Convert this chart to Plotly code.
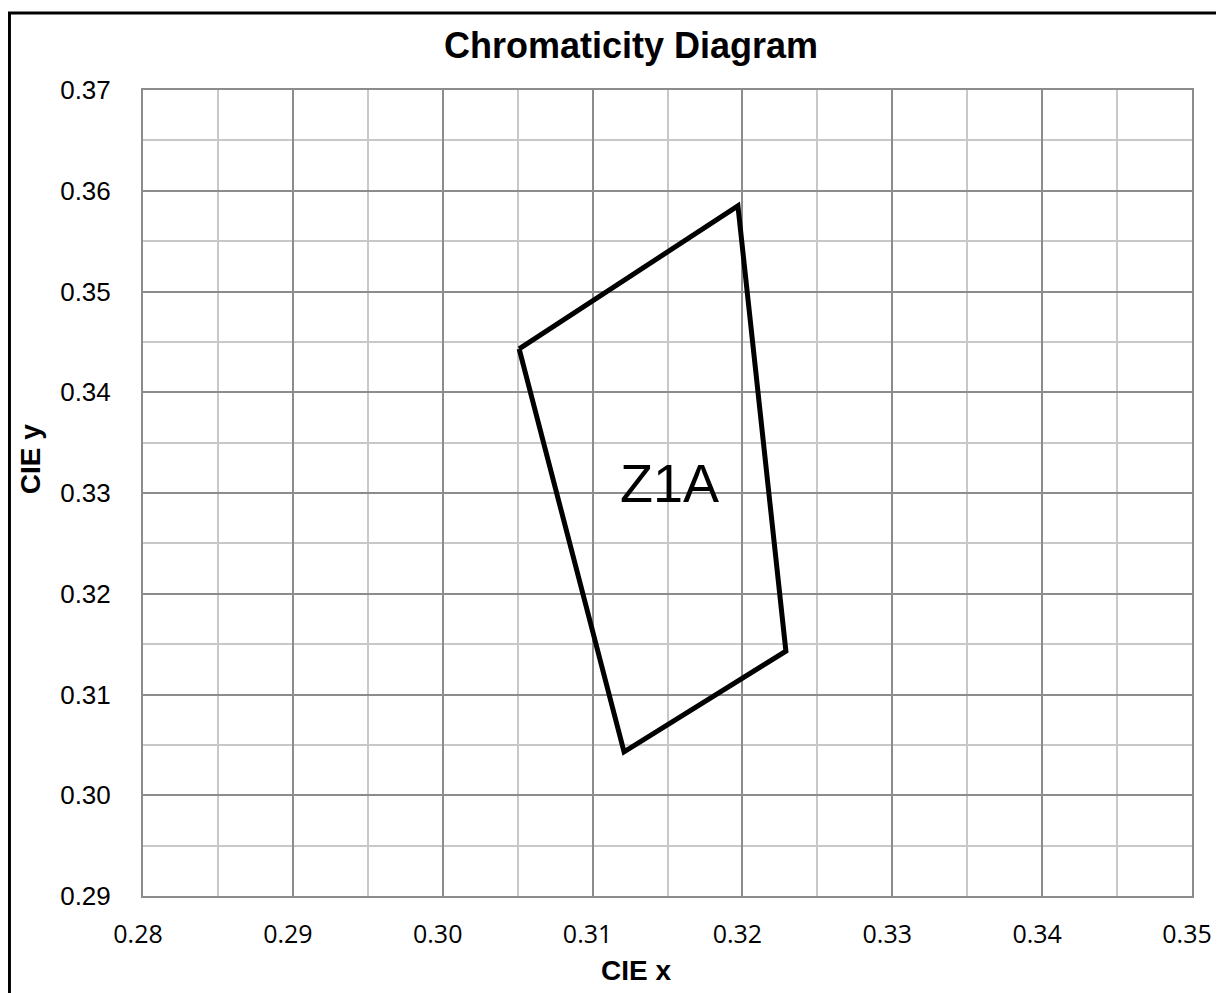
import plotly.graph_objects as go

# Data
zone_name = "Z1A"
corner_x = [0.3051, 0.3197, 0.3229, 0.3121]
corner_y = [0.3443, 0.3585, 0.3143, 0.3043]
label_pos = (0.3151, 0.3310)
x_range = [0.28, 0.35]
y_range = [0.29, 0.37]

fig = go.Figure()
fig.add_trace(go.Scatter(
    x=corner_x + corner_x[:1],
    y=corner_y + corner_y[:1],
    mode="lines",
    line=dict(color="black", width=5),
    showlegend=False,
    hoverinfo="skip",
))

fig.add_annotation(x=label_pos[0], y=label_pos[1], text=zone_name, showarrow=False,
                   font=dict(family="Liberation Sans", size=54, color="black"),
                   xanchor="center", yanchor="middle")

fig.add_annotation(xref="paper", yref="paper", x=0.4652, y=1.0558,
                   text="<b>Chromaticity Diagram</b>", showarrow=False,
                   font=dict(family="Liberation Sans", size=36, color="black"),
                   xanchor="center", yanchor="middle")
fig.add_annotation(xref="paper", yref="paper", x=0.470, y=-0.093,
                   text="<b>CIE x</b>", showarrow=False,
                   font=dict(family="Liberation Sans", size=28, color="black"),
                   xanchor="center", yanchor="middle")
fig.add_annotation(xref="paper", yref="paper", x=-0.1077, y=0.542,
                   text="<b>CIE y</b>", showarrow=False, textangle=-90,
                   font=dict(family="Liberation Sans", size=28, color="black"),
                   xanchor="center", yanchor="middle")

fig.add_shape(type="rect", xref="paper", yref="paper",
              x0=-0.1273, x1=1.0458, y0=-0.1414, y1=1.0955,
              line=dict(color="black", width=3), fillcolor="rgba(0,0,0,0)", layer="above")

fig.update_xaxes(
    range=x_range, dtick=0.01, tick0=0.28, tickformat=".2f",
    showgrid=True, gridcolor="#8c8c8c", gridwidth=1.5,
    minor=dict(dtick=0.005, showgrid=True, gridcolor="#c8c8c8", gridwidth=1.5),
    showline=True, linecolor="#8c8c8c", linewidth=2, mirror=True,
    zeroline=False, ticks="",
    tickfont=dict(family="Open Sans", size=25, color="black"),
    ticklabelstandoff=15, ticklabelshift=-5,
)
fig.update_yaxes(
    range=y_range, dtick=0.01, tick0=0.29, tickformat=".2f",
    showgrid=True, gridcolor="#8c8c8c", gridwidth=1.5,
    minor=dict(dtick=0.005, showgrid=True, gridcolor="#c8c8c8", gridwidth=1.5),
    showline=True, linecolor="#8c8c8c", linewidth=2, mirror=True,
    zeroline=False, ticks="",
    tickfont=dict(family="Liberation Sans", size=26, color="black"),
    ticklabelstandoff=25,
)

# page body has an 8px margin, so the figure is shrunk/shifted to compensate
fig.update_layout(
    width=1216, height=985,
    margin=dict(l=135, r=28, t=82, b=97),
    paper_bgcolor="white", plot_bgcolor="white",
    showlegend=False,
)

fig.write_html("out.html")
